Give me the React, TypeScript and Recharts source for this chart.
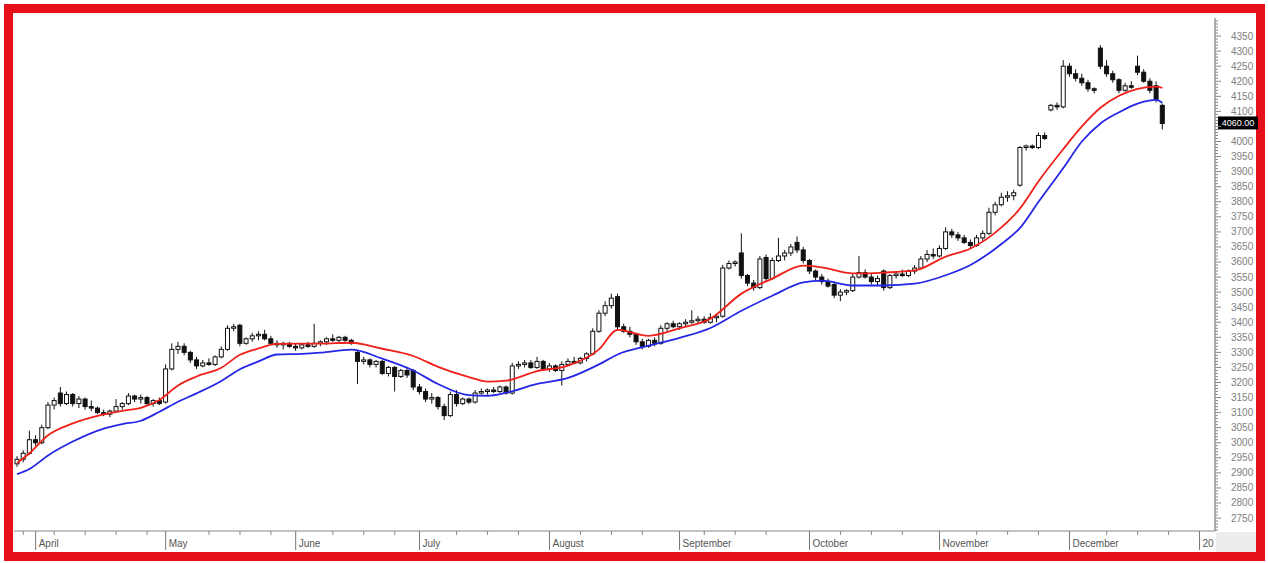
import React from 'react';
import { ComposedChart, Bar, Line, XAxis, YAxis, ReferenceLine } from 'recharts';

// daily candles, index 0 = late March
const opens = [
  2930, 2945, 2965, 3010, 3000, 3050, 3125, 3165, 3130, 3160,
  3130, 3145, 3120, 3115, 3100, 3095, 3105, 3120, 3130, 3155,
  3145, 3150, 3130, 3140, 3135, 3245, 3310, 3320, 3300, 3275,
  3255, 3265, 3260, 3285, 3310, 3380, 3390, 3330, 3345, 3355,
  3360, 3345, 3330, 3325, 3330, 3320, 3315, 3325, 3320, 3330,
  3335, 3345, 3340, 3350, 3340, 3300, 3270, 3275, 3260, 3270,
  3230, 3250, 3220, 3240, 3240, 3185, 3170, 3145, 3150, 3120,
  3090, 3160, 3130, 3145, 3135, 3165, 3170, 3175, 3170, 3185,
  3165, 3255, 3260, 3265, 3250, 3270, 3245, 3255, 3240, 3260,
  3270, 3265, 3280, 3295, 3370, 3430, 3455, 3485, 3385, 3370,
  3360, 3335, 3320, 3340, 3330, 3380, 3395, 3385, 3395, 3400,
  3405, 3410, 3400, 3415, 3420, 3580, 3595, 3630, 3555, 3530,
  3515, 3615, 3545, 3605, 3620, 3630, 3665, 3640, 3605, 3570,
  3550, 3535, 3525, 3490, 3500, 3505, 3550, 3565, 3550, 3535,
  3570, 3515, 3555, 3560, 3555, 3570, 3580, 3610, 3625, 3620,
  3645, 3700, 3690, 3680, 3665, 3655, 3680, 3695, 3765, 3790,
  3815, 3820, 3855, 3980, 3985, 3980, 4020, 4105, 4120, 4115,
  4250, 4225, 4210, 4195, 4175, 4310, 4250, 4225, 4205, 4170,
  4185, 4250, 4230, 4200, 4185, 4120,
];
const highs = [
  2955, 2975, 3040, 3025, 3060, 3135, 3150, 3185, 3170, 3165,
  3155, 3150, 3140, 3120, 3110, 3110, 3145, 3135, 3165, 3160,
  3160, 3155, 3145, 3150, 3260, 3330, 3335, 3330, 3305, 3285,
  3275, 3280, 3290, 3320, 3390, 3395, 3395, 3350, 3365, 3370,
  3375, 3355, 3340, 3335, 3335, 3330, 3330, 3335, 3395, 3340,
  3350, 3360, 3355, 3355, 3345, 3305, 3285, 3280, 3275, 3275,
  3255, 3255, 3245, 3250, 3245, 3195, 3180, 3165, 3155, 3130,
  3170, 3175, 3150, 3150, 3175, 3180, 3180, 3185, 3190, 3190,
  3265, 3270, 3275, 3275, 3285, 3275, 3265, 3260, 3270, 3280,
  3285, 3285, 3300, 3380, 3440, 3470, 3495, 3495, 3395, 3385,
  3365, 3345, 3345, 3350, 3390, 3400, 3405, 3400, 3410, 3440,
  3420, 3420, 3430, 3425, 3590, 3605, 3605, 3695, 3560, 3540,
  3620, 3625, 3615, 3680, 3640, 3660, 3685, 3650, 3610, 3575,
  3560, 3545, 3535, 3510, 3510, 3560, 3620, 3575, 3560, 3555,
  3575, 3560, 3570, 3575, 3575, 3590, 3620, 3640, 3645, 3655,
  3715, 3710, 3700, 3690, 3675, 3690, 3705, 3780, 3800, 3830,
  3835, 3840, 3985, 3990, 3990, 4030, 4030, 4125, 4130, 4270,
  4260, 4240, 4225, 4205, 4180, 4320, 4270, 4235, 4210, 4195,
  4200, 4285, 4240, 4210, 4200, 4125,
];
const lows = [
  2920, 2935, 2960, 2990, 2995, 3045, 3110, 3120, 3125, 3120,
  3115, 3110, 3105, 3095, 3088, 3085, 3100, 3110, 3125, 3135,
  3130, 3125, 3120, 3125, 3130, 3240, 3295, 3290, 3265, 3245,
  3250, 3255, 3255, 3280, 3305, 3370, 3320, 3325, 3335, 3340,
  3340, 3325, 3315, 3310, 3315, 3305, 3310, 3315, 3315, 3320,
  3325, 3335, 3330, 3335, 3325, 3195, 3260, 3250, 3250, 3225,
  3220, 3170, 3215, 3215, 3175, 3160, 3135, 3130, 3110, 3075,
  3085, 3120, 3125, 3128, 3130, 3160, 3160, 3165, 3165, 3160,
  3160, 3245, 3250, 3245, 3245, 3240, 3235, 3235, 3190, 3255,
  3260, 3260, 3270, 3290, 3365, 3420, 3445, 3375, 3365, 3350,
  3325, 3310, 3315, 3320, 3325, 3370, 3380, 3375, 3385, 3395,
  3395, 3395, 3395, 3400, 3415, 3575, 3585, 3545, 3520, 3505,
  3510, 3535, 3540, 3600, 3605, 3620, 3630, 3595, 3560, 3540,
  3525, 3515, 3480, 3470, 3490, 3500, 3545, 3545, 3525, 3520,
  3505, 3510, 3545, 3550, 3550, 3560, 3575, 3600, 3610, 3615,
  3640, 3680, 3670, 3660, 3645, 3650, 3670, 3690, 3755, 3785,
  3800, 3805, 3850, 3970, 3975, 3975, 4005, 4100, 4105, 4110,
  4215, 4200, 4185, 4165, 4160, 4240, 4215, 4195, 4160, 4165,
  4175, 4220, 4195, 4160, 4130, 4040,
];
const closes = [
  2945, 2965, 3010, 3000, 3050, 3125, 3140, 3130, 3160, 3130,
  3145, 3120, 3115, 3100, 3095, 3105, 3120, 3130, 3155, 3145,
  3150, 3130, 3140, 3130, 3245, 3310, 3320, 3300, 3275, 3255,
  3265, 3260, 3285, 3310, 3380, 3385, 3330, 3345, 3355, 3360,
  3345, 3330, 3325, 3330, 3320, 3315, 3325, 3320, 3330, 3335,
  3345, 3340, 3350, 3340, 3330, 3270, 3275, 3260, 3270, 3230,
  3250, 3220, 3240, 3225, 3185, 3170, 3145, 3150, 3120, 3090,
  3160, 3130, 3145, 3135, 3165, 3170, 3175, 3170, 3185, 3165,
  3255, 3260, 3265, 3250, 3270, 3245, 3255, 3240, 3260, 3270,
  3265, 3280, 3295, 3370, 3430, 3455, 3480, 3385, 3370, 3360,
  3335, 3320, 3340, 3330, 3380, 3395, 3385, 3395, 3400, 3405,
  3410, 3400, 3415, 3420, 3580, 3595, 3600, 3555, 3530, 3515,
  3610, 3545, 3605, 3620, 3630, 3650, 3640, 3605, 3570, 3550,
  3535, 3520, 3490, 3500, 3505, 3550, 3565, 3550, 3535, 3545,
  3515, 3555, 3560, 3555, 3570, 3580, 3610, 3625, 3620, 3645,
  3700, 3690, 3680, 3665, 3655, 3680, 3695, 3765, 3790, 3815,
  3820, 3830, 3980, 3985, 3980, 4020, 4010, 4120, 4115, 4250,
  4225, 4210, 4195, 4175, 4170, 4250, 4225, 4205, 4170, 4185,
  4180, 4230, 4200, 4170, 4140, 4060,
];

// moving averages read at these candle indices
const maDays = [0, 2, 5, 9, 14, 17, 20, 23, 26, 29, 33, 36, 39, 42, 46, 49, 54, 59, 64, 68, 73, 76, 79, 84, 89, 94, 97, 102, 107, 112, 117, 122, 127, 130, 135, 140, 145, 150, 154, 159, 162, 165, 169, 172, 175, 178, 181, 184, 185];
const redMA = [2933, 2965, 3025, 3064, 3094, 3106, 3116, 3142, 3190, 3220, 3249, 3292, 3313, 3328, 3329, 3329, 3332, 3312, 3288, 3252, 3218, 3203, 3206, 3238, 3256, 3310, 3375, 3355, 3380, 3412, 3495, 3545, 3588, 3582, 3562, 3565, 3572, 3618, 3645, 3715, 3778, 3868, 3975, 4050, 4112, 4152, 4175, 4182, 4178];
const blueMA = [2896, 2913, 2958, 3004, 3047, 3062, 3073, 3103, 3136, 3164, 3205, 3244, 3270, 3293, 3295, 3299, 3309, 3279, 3240, 3195, 3158, 3156, 3166, 3195, 3215, 3260, 3293, 3322, 3348, 3381, 3438, 3488, 3532, 3538, 3522, 3522, 3528, 3556, 3590, 3660, 3713, 3800, 3912, 4000, 4060, 4097, 4126, 4138, 4128];

const monthDays = [3, 24, 45, 65, 86, 107, 128, 149, 170, 191];
const monthNames = ['April', 'May', 'June', 'July', 'August', 'September', 'October', 'November', 'December', '20'];
const weekDays = [1, 6, 11, 16, 21, 31, 36, 41, 51, 56, 61, 71, 76, 81, 91, 96, 101, 111, 116, 121, 133, 138, 143, 155, 160, 165, 176, 181, 186];
const priceLabels = [2750, 2800, 2850, 2900, 2950, 3000, 3050, 3100, 3150, 3200, 3250, 3300, 3350, 3400, 3450, 3500, 3550, 3600, 3650, 3700, 3750, 3800, 3850, 3900, 3950, 4000, 4050, 4100, 4150, 4200, 4250, 4300, 4350];

const rows: any[] = closes.map((c, i) => ({
  i, o: opens[i], h: highs[i], l: lows[i], c, range: [lows[i], highs[i]],
}));
maDays.forEach((d, k) => {
  rows[d].red = redMA[k];
  rows[d].blue = blueMA[k];
});

const yTicks: number[] = [];
priceLabels.forEach(p => { for (let s = -40; s <= 0; s += 10) yTicks.push(p + s); });
[4360, 4370, 4380, 4390, 4400].forEach(v => yTicks.push(v));

const allXTicks = [...monthDays, ...weekDays].sort((a, b) => a - b);
const lastClose = closes[closes.length - 1];
const font = '"Liberation Sans", Arial, sans-serif';

const Candle = (props: any) => {
  const { x, y, width, height, payload } = props;
  const { o, h, l, c } = payload;
  const mid = x + width / 2;
  const k = h === l ? 0 : height / (h - l);
  const yO = y + (h - o) * k;
  const yC = y + (h - c) * k;
  const top = Math.min(yO, yC);
  const bh = Math.max(1, Math.abs(yO - yC));
  const up = c >= o;
  return (
    <g>
      <line x1={mid} x2={mid} y1={y} y2={y + height} stroke="#111" strokeWidth={1} />
      <rect x={x} y={top} width={width} height={bh} fill={up ? '#fff' : '#111'} stroke="#111" strokeWidth={1} />
    </g>
  );
};

const XTick = (props: any) => {
  const { x, y, payload } = props;
  const m = monthDays.indexOf(payload.value);
  if (m >= 0) {
    return (
      <g>
        <line x1={x} x2={x} y1={y} y2={y + 19} stroke="#777" />
        <text x={x + 3} y={y + 16} fontSize={10} fill="#555" fontFamily={font}>{monthNames[m]}</text>
      </g>
    );
  }
  return <line x1={x} x2={x} y1={y} y2={y + 4} stroke="#888" />;
};

const YTick = (props: any) => {
  const { x, y, payload } = props;
  const v = payload.value;
  const major = priceLabels.includes(v);
  // the last-price tag covers the label nearest to it
  const covered = Math.abs(v - lastClose) < 25;
  return (
    <g>
      <line x1={x} x2={x + (major ? 6 : 3)} y1={y} y2={y} stroke="#888" />
      {major && !covered && (
        <text x={x + 16} y={y + 3.5} fontSize={10} fill="#808080" fontFamily={font}>{v}</text>
      )}
    </g>
  );
};

const PriceTag = (props: any) => {
  const { x, y, width } = props.viewBox;
  return (
    <g>
      <rect x={x + width + 3} y={y - 7} width={40} height={13} fill="#000" />
      <text x={x + width + 23} y={y + 3} textAnchor="middle" fontSize={9} fill="#fff" fontFamily={font}>
        {lastClose.toFixed(2)}
      </text>
    </g>
  );
};

export default function App() {
  return (
    <div style={{ position: 'fixed', left: 0, top: 0, width: 1268, height: 563, background: '#fff', overflow: 'hidden' }}>
      <div style={{ position: 'absolute', left: 1216, top: 532, width: 42, height: 22, background: '#ededed' }} />
      <div style={{ position: 'absolute', left: 4, top: 4, width: 1261, height: 557, boxSizing: 'border-box', border: '9px solid #e5101a' }} />
      <div style={{ position: 'absolute', left: 0, top: 0 }}>
        <ComposedChart width={1268} height={563} data={rows} margin={{ top: 18, right: 8, bottom: 10, left: 14 }}>
          <XAxis
            dataKey="i"
            type="number"
            domain={[-0.5, 193.5]}
            ticks={allXTicks}
            interval={0}
            tick={<XTick />}
            tickLine={false}
            tickSize={0}
            tickMargin={0}
            axisLine={{ stroke: '#888' }}
            height={22}
            allowDataOverflow
          />
          <YAxis
            orientation="right"
            domain={[2707, 4410]}
            ticks={yTicks}
            interval={0}
            tick={<YTick />}
            tickLine={false}
            tickSize={0}
            tickMargin={0}
            axisLine={{ stroke: '#666' }}
            width={45}
            allowDataOverflow
          />
          <Bar dataKey="range" barSize={4} shape={<Candle />} isAnimationActive={false} />
          <Line dataKey="red" type="monotone" stroke="#f0201a" strokeWidth={1.8} dot={false} connectNulls isAnimationActive={false} />
          <Line dataKey="blue" type="monotone" stroke="#2626e6" strokeWidth={1.8} dot={false} connectNulls isAnimationActive={false} />
          <ReferenceLine y={lastClose} stroke="none" label={<PriceTag />} />
        </ComposedChart>
      </div>
    </div>
  );
}
